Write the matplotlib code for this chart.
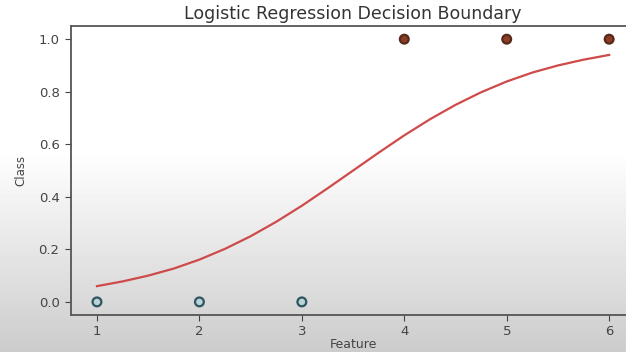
import numpy as np
import matplotlib
matplotlib.use("Agg")
import matplotlib.pyplot as plt

# data points (feature, class)
feature = [1, 2, 3, 4, 5, 6]
label = [0, 0, 0, 1, 1, 1]

# fitted probability curve
curve_x = [1.0, 1.25, 1.5, 1.75, 2.0, 2.25, 2.5, 2.75, 3.0, 3.25, 3.5,
           3.75, 4.0, 4.25, 4.5, 4.75, 5.0, 5.25, 5.5, 5.75, 6.0]
curve_p = [0.060, 0.078, 0.100, 0.127, 0.161, 0.202, 0.250, 0.305, 0.366, 0.432, 0.500,
           0.568, 0.634, 0.695, 0.750, 0.798, 0.839, 0.873, 0.900, 0.922, 0.940]

fig = plt.figure(figsize=(6.26, 3.52), dpi=100)

# screenshot-like background: white at the top fading to grey
bg = fig.add_axes([0, 0, 1, 1], zorder=0)
shade = np.ones(352)
shade[150:] = np.linspace(1.0, 0.80, 352 - 150)
bg.imshow(shade[:, None] * np.ones((1, 10)), cmap="gray", vmin=0, vmax=1,
          aspect="auto", extent=[0, 1, 0, 1], origin="upper")
bg.axis("off")

ax = fig.add_axes([0.114, 0.105, 0.900, 0.821], zorder=1)
ax.patch.set_alpha(0)

cols = ["#b9d3d8" if c == 0 else "#8e3d24" for c in label]
edges = ["#2e5560" if c == 0 else "#55291b" for c in label]
ax.scatter(feature, label, c=cols, edgecolors=edges, s=40, linewidths=1.6, zorder=3)
ax.plot(curve_x, curve_p, color="#cf4a4a", linewidth=1.6, zorder=2)

ax.set_xlim(0.75, 6.25)
ax.set_ylim(-0.05, 1.05)
ax.set_xticks(feature)
ax.set_yticks([0.0, 0.2, 0.4, 0.6, 0.8, 1.0])
ax.tick_params(labelsize=9.5, colors="#444444", length=4, pad=4.5)
ax.tick_params(axis="x", pad=3)
for s in ax.spines.values():
    s.set_color("#555555")
    s.set_linewidth(1.3)

ax.set_title("Logistic Regression Decision Boundary", fontsize=12.5, color="#333333", pad=5)
ax.set_xlabel("Feature", fontsize=9, color="#444444", labelpad=0)
ax.set_ylabel("Class", fontsize=8.5, color="#444444", labelpad=8)

fig.savefig("out.png", dpi=100)
